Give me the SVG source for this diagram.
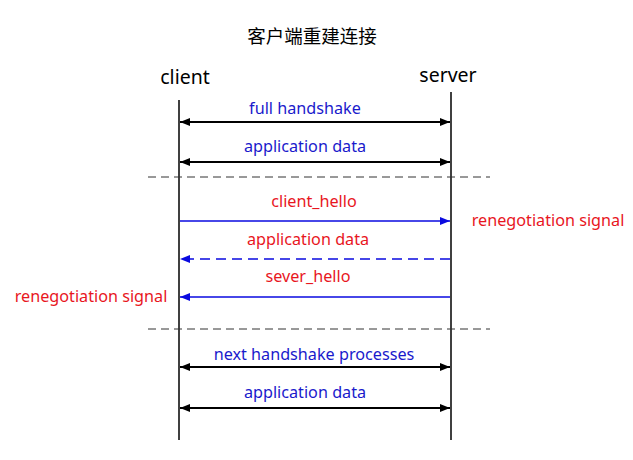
<svg xmlns="http://www.w3.org/2000/svg" width="633" height="460" viewBox="0 0 633 460">
<style>
text{font-family:"Noto Sans","Open Sans","Liberation Sans","Noto Sans CJK SC",sans-serif;text-anchor:middle}
.t{font-size:18.5px;fill:#000}
.h{font-size:19.5px;fill:#000}
.b{font-size:16.2px;fill:#1a1acc}
.r{font-size:16.2px;fill:#e8161e}
.life{stroke:#000;stroke-width:1.5;fill:none}
.sep{stroke:#333;stroke-width:1;stroke-dasharray:8,5;fill:none}
.k{stroke:#000;stroke-width:2;fill:none}
.bl{stroke:#0a0ae0;stroke-width:1.5;fill:none}
</style>
<defs>
<marker id="ak" viewBox="0 0 10 8" refX="10" refY="4" markerWidth="10" markerHeight="8" markerUnits="userSpaceOnUse" orient="auto-start-reverse"><path d="M0,0L10,4L0,8z" fill="#000"/></marker>
<marker id="ab" viewBox="0 0 10 8" refX="10" refY="4" markerWidth="10" markerHeight="8" markerUnits="userSpaceOnUse" orient="auto-start-reverse"><path d="M0,0L10,4L0,8z" fill="#0a0ae0"/></marker>
</defs>
<text class="t" x="312" y="43">客户端重建连接</text>
<g id="client"><text class="h" x="185" y="84">client</text><line class="life" x1="179" y1="100" x2="179" y2="440"/></g>
<g id="server"><text class="h" x="448" y="82">server</text><line class="life" x1="451" y1="92" x2="451" y2="440"/></g>
<g id="connectors">
<line class="sep" x1="148" y1="177" x2="490" y2="177"/>
<line class="sep" x1="148" y1="329" x2="490" y2="329"/>
<line class="k" x1="180" y1="122" x2="450" y2="122" marker-start="url(#ak)" marker-end="url(#ak)"/>
<line class="k" x1="180" y1="162" x2="450" y2="162" marker-start="url(#ak)" marker-end="url(#ak)"/>
<line class="bl" x1="180" y1="221" x2="450" y2="221" marker-end="url(#ab)"/>
<line class="bl" x1="450" y1="259" x2="180" y2="259" stroke-dasharray="10,6" marker-end="url(#ab)"/>
<line class="bl" x1="450" y1="297" x2="180" y2="297" marker-end="url(#ab)"/>
<line class="k" x1="180" y1="367" x2="450" y2="367" marker-start="url(#ak)" marker-end="url(#ak)"/>
<line class="k" x1="180" y1="408" x2="450" y2="408" marker-start="url(#ak)" marker-end="url(#ak)"/>
</g>
<g id="labels">
<text class="b" x="305" y="114">full handshake</text>
<text class="b" x="305" y="152">application data</text>
<text class="r" x="314" y="207">client_hello</text>
<text class="r" x="548" y="226">renegotiation signal</text>
<text class="r" x="308" y="245">application data</text>
<text class="r" x="308" y="282">sever_hello</text>
<text class="r" x="91" y="302">renegotiation signal</text>
<text class="b" x="314" y="360">next handshake processes</text>
<text class="b" x="305" y="398">application data</text>
</g>
</svg>
